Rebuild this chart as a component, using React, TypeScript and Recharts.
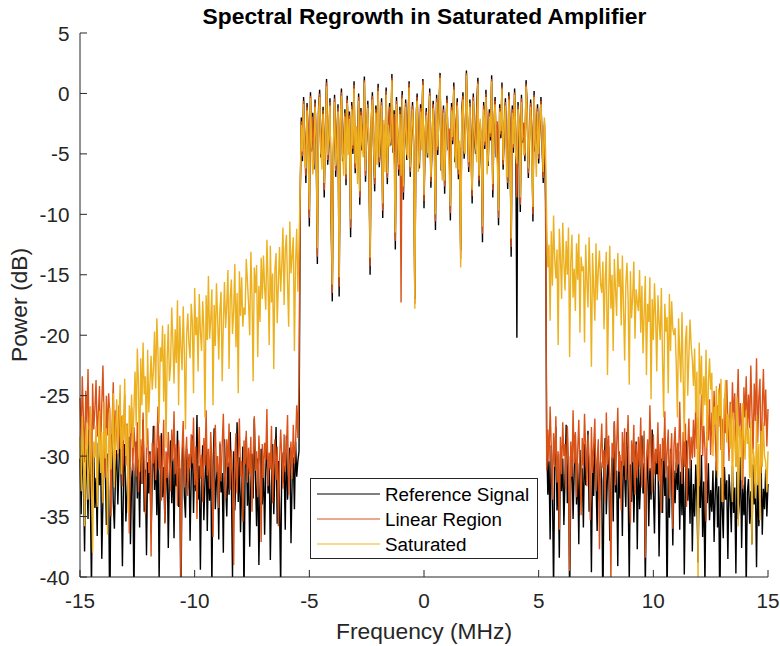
import React from 'react';
import { LineChart, Line, XAxis, YAxis } from 'recharts';

// Spectrum sampled every 0.05 MHz, stored as three segments per series:
// lower out-of-band (-15 .. -5.45), in-band (-5.4 .. 5.3), upper out-of-band (5.35 .. 15)
const FREQ_STEP = 0.05;
const SEG_START = [-15, -5.4, 5.35];
const X_TICKS = [-15, -10, -5, 0, 5, 10, 15];
const Y_TICKS = [-40, -35, -30, -25, -20, -15, -10, -5, 0, 5];
const SERIES_NAMES = ['Reference Signal', 'Linear Region', 'Saturated'];
const COLORS = ['#000000', '#D95319', '#EDB120'];
const TITLE = 'Spectral Regrowth in Saturated Amplifier';
const X_LABEL = 'Frequency (MHz)';
const Y_LABEL = 'Power (dB)';

// ---------- Reference Signal ----------
const refLow: number[] = [
  -30.2, -34.8, -28.6, -32.1, -37.9, -29.4, -31.5, -35.2, -27.8, -33.0, -41, -30.7, -29.1, -34.3, -31.8, -36.6,
  -28.9, -32.4, -30.1, -38.5, -33.6, -27.3, -31.0, -35.7, -29.8, -32.9, -44, -30.4, -28.2, -33.8, -36.0, -31.2,
  -29.5, -34.0, -30.8, -27.6, -32.6, -39.1, -31.4, -29.0, -35.4, -33.2, -30.0, -28.4, -37.3, -32.0, -30.6, -42,
  -31.7, -28.8, -33.5, -30.3, -35.9, -29.2, -32.3, -27.0, -34.6, -31.1, -38.2, -30.5, -33.1, -29.6, -36.4, -31.9,
  -27.5, -32.8, -30.0, -34.9, -29.3, -40.3, -31.6, -28.1, -33.4, -30.9, -35.5, -32.2, -29.7, -37.6, -31.3, -28.7,
  -33.9, -30.2, -36.8, -29.9, -32.5, -27.9, -34.2, -31.0, -43, -30.6, -28.5, -33.3, -35.1, -29.4, -32.7, -30.1,
  -37.0, -31.5, -28.3, -34.7, -30.4, -32.9, -26.6, -33.6, -30.8, -39.4, -31.8, -29.1, -35.3, -32.1, -28.9, -36.2,
  -30.3, -33.7, -29.5, -41, -31.2, -27.7, -34.4, -32.0, -30.7, -36.9, -29.0, -33.0, -31.4, -38.0, -28.6, -32.4,
  -35.0, -30.5, -33.2, -28.0, -31.9, -40.0, -29.6, -34.5, -31.7, -27.2, -33.8, -30.1, -36.3, -32.6, -29.2, -42,
  -31.0, -28.4, -34.1, -30.9, -37.5, -32.3, -29.8, -33.5, -26.9, -31.6, -35.8, -30.2, -39.0, -32.8, -29.4, -34.0,
  -30.6, -36.5, -31.3, -28.7, -33.1, -30.0, -38.6, -32.5, -29.0, -34.8, -31.1, -27.6, -35.6, -30.4, -33.9, -41,
  -29.7, -32.2, -30.8, -36.1, -28.3, -33.6, -31.5, -29.3, -37.2, -32.0, -30.1, -34.4, -28.8, -31.7, -30.4, -29.6,
];
const refBand: number[] = [
  -9.2, -2.0, -5.6, -0.3, -3.9, -7.4, -0.8, -3.5, -11.0, 0.1, -4.8, -1.6, -6.3, -0.5, -4.4, -14.1,
  -1.4, 0.3, -5.3, -3.7, -1.1, -8.6, -3.1, 1.2, -5.9, -4.2, -0.4, -10.1, -17.2, -5.1, -0.1, -6.9,
  -3.8, -0.9, -16.8, -3.0, 0.4, -5.6, -4.5, -1.3, -7.6, -0.2, -3.7, -1.5, -11.9, -0.7, -5.0, 1.0,
  -6.6, -3.3, -4.2, 0.0, -9.2, -1.2, -4.7, -2.9, 1.4, -7.3, -3.6, -0.6, -5.4, -15.0, -2.6, 0.1,
  -4.5, -8.1, -1.0, -3.5, 0.8, -6.1, -4.0, -0.4, -10.3, -2.8, -5.2, 0.5, -7.5, -3.2, -0.8, -4.3,
  1.6, -4.9, -1.4, -12.9, -0.3, -3.9, -6.8, -1.1, -3.4, 0.2, -8.8, -4.2, -0.5, -5.5, -3.0, 1.0,
  -6.9, -3.5, -0.7, -4.6, -17.0, -2.7, 0.0, -4.1, -6.2, -0.9, -3.3, 1.2, -9.5, -3.7, -1.2, -5.3,
  -2.9, 0.4, -7.8, -4.4, -0.6, -3.1, -11.3, -0.1, -5.1, -1.4, 1.7, -6.4, -3.8, -1.0, -8.3, -3.4,
  -0.2, -4.7, -3.2, -10.5, -0.8, -4.2, 0.9, -5.7, -2.8, -0.4, -7.1, -4.5, -13.0, -1.3, 0.1, -5.4,
  -3.6, 1.9, -3.0, -6.5, -0.5, -4.0, -9.1, 0.0, -3.5, -5.0, -1.1, 1.3, -7.7, -2.7, -4.3, -12.3,
  -0.7, -4.6, 0.3, -3.3, -6.0, -1.3, -3.9, 1.5, -8.6, -3.0, -0.3, -5.3, -2.6, -10.9, -0.9, -3.7,
  0.9, -6.3, -3.2, -0.4, -4.5, -7.9, 0.1, -2.8, -13.5, -1.0, -4.9, 0.4, -3.6, -20.2, -0.7, -3.3,
  -9.8, -0.1, -4.1, -2.7, -5.6, 1.1, -1.2, -7.0, -3.8, -0.5, -3.1, -10.6, 0.2, -4.8, -3.5, -0.9,
  -5.8, -2.9, -0.3, -4.4, -7.4, -2.6, -9.0,
];
const refHigh: number[] = [
  -28.7, -33.2, -30.4, -36.9, -29.1, -32.6, -41, -30.8, -27.6, -34.5, -31.3, -38.4, -29.8, -32.9, -30.2, -35.7,
  -31.8, -27.4, -33.9, -30.0, -42, -32.3, -29.4, -35.2, -31.1, -28.2, -34.0, -30.6, -37.3, -29.5, -32.7, -31.0,
  -35.9, -29.0, -32.4, -30.7, -27.9, -34.6, -31.5, -39.6, -30.3, -33.3, -28.6, -31.9, -36.2, -29.9, -33.7, -30.5,
  -32.1, -43, -30.9, -28.5, -34.8, -31.6, -29.2, -37.0, -32.8, -30.1, -35.4, -27.2, -33.0, -31.2, -39.1, -29.6,
  -33.5, -30.4, -36.6, -29.3, -31.7, -34.2, -28.0, -32.5, -40.4, -30.7, -33.8, -29.7, -35.5, -31.4, -28.8, -37.7,
  -30.0, -34.4, -31.9, -28.3, -33.1, -30.6, -41, -32.2, -29.5, -35.8, -31.0, -33.6, -27.8, -32.9, -36.4, -30.3,
  -31.5, -29.1, -38.3, -32.6, -30.2, -34.7, -28.9, -33.3, -31.7, -42, -30.8, -35.1, -29.4, -32.0, -37.4, -31.2,
  -33.9, -30.5, -32.8, -29.6, -36.1, -31.3, -34.9, -30.0, -39.8, -32.4, -28.7, -33.7, -31.0, -35.6, -30.3, -37.9,
  -32.3, -35.0, -30.7, -33.5, -38.8, -31.6, -34.3, -29.9, -36.7, -32.1, -40.7, -31.4, -33.9, -30.6, -35.3, -32.8,
  -34.6, -31.2, -37.1, -33.0, -30.4, -35.9, -32.5, -43, -31.8, -34.1, -36.8, -30.9, -33.6, -32.0, -38.5, -31.5,
  -33.2, -36.3, -30.8, -34.7, -32.6, -39.7, -31.3, -35.2, -33.8, -30.1, -37.6, -32.4, -34.9, -31.7, -41, -33.0,
  -31.9, -35.6, -32.9, -37.3, -30.7, -34.0, -32.2, -39.2, -31.4, -35.8, -33.4, -30.5, -36.5, -32.7, -34.4, -31.1,
  -35.0, -32.3,
];

// ---------- Linear Region ----------
const linLow: number[] = [
  -25.2, -28.7, -23.4, -26.9, -30.5, -24.6, -27.3, -22.8, -29.1, -25.9, -33.6, -24.0, -27.8, -26.1, -23.7, -28.4,
  -26.5, -24.2, -29.6, -25.7, -22.5, -27.1, -31.8, -25.0, -28.3, -24.8, -26.6, -35.0, -27.5, -23.9, -29.0, -26.2,
  -27.9, -30.2, -25.8, -29.4, -26.7, -32.5, -28.1, -24.9, -30.8, -27.3, -29.7, -36.4, -28.5, -26.0, -31.2, -27.6,
  -29.3, -31.7, -27.2, -33.0, -30.0, -28.6, -32.3, -26.4, -30.9, -34.8, -29.1, -27.7, -31.4, -29.8, -38.3, -28.9,
  -30.6, -27.5, -32.0, -29.4, -25.9, -31.1, -28.3, -33.7, -30.2, -27.0, -35.6, -29.6, -31.8, -28.0, -30.7, -32.9,
  -27.8, -30.4, -26.3, -31.5, -29.0, -34.1, -28.7, -30.9, -40.2, -29.5, -27.1, -32.6, -30.1, -28.4, -33.3, -29.8,
  -31.0, -28.2, -30.6, -26.8, -32.4, -29.2, -35.2, -30.3, -27.6, -31.9, -29.9, -33.8, -28.5, -30.8, -26.2, -31.6,
  -29.4, -32.7, -28.0, -30.5, -36.7, -29.7, -27.4, -31.3, -30.0, -34.3, -28.8, -32.1, -29.1, -26.5, -31.0, -33.5,
  -28.6, -30.9, -27.3, -32.8, -29.5, -31.4, -39.0, -30.2, -28.1, -33.1, -29.8, -26.9, -31.7, -30.4, -35.4, -28.7,
  -30.7, -27.9, -32.2, -29.3, -31.5, -28.4, -34.6, -30.1, -26.7, -31.2, -29.6, -33.4, -28.3, -30.6, -37.1, -29.0,
  -31.8, -28.9, -30.3, -26.1, -32.5, -29.7, -31.1, -27.5, -33.9, -30.0, -28.6, -32.0, -29.2, -35.8, -30.5, -27.8,
  -30.1, -32.7, -28.2, -31.3, -29.5, -26.6, -33.2, -30.4, -28.8, -31.9, -27.4, -30.6, -29.0, -25.8, -28.5, -24.0,
];
const linBand: number[] = [
  -8.4, -2.3, -5.2, -0.6, -3.6, -6.8, -1.1, -3.2, -10.3, -0.2, -4.4, -1.9, -5.9, -0.8, -4.0, -13.5,
  -1.7, 0.0, -5.0, -3.3, -1.4, -8.0, -2.8, 0.9, -5.5, -3.9, -0.7, -9.4, -16.5, -4.7, -0.4, -6.4,
  -3.5, -1.2, -16.0, -2.7, 0.1, -5.2, -4.1, -1.6, -7.1, -0.5, -3.4, -1.8, -11.1, -1.0, -4.6, 0.7,
  -6.2, -3.0, -3.8, -0.3, -8.6, -1.5, -4.3, -2.6, 1.1, -6.8, -3.3, -0.9, -5.0, -14.3, -2.3, -0.2,
  -4.2, -7.5, -1.3, -3.2, 0.5, -5.7, -3.7, -0.7, -9.7, -2.5, -4.8, 0.2, -7.0, -2.9, -1.1, -4.0,
  1.3, -4.5, -1.7, -12.2, -0.6, -3.6, -6.3, -1.4, -17.3, -0.1, -8.2, -3.9, -0.8, -5.1, -2.7, 0.8,
  -6.5, -3.2, -1.0, -4.3, -17.4, -2.4, -0.3, -3.8, -5.8, -1.2, -3.0, 1.0, -8.9, -3.4, -1.5, -4.9,
  -2.6, 0.1, -7.3, -4.1, -0.9, -2.8, -10.6, -0.4, -4.7, -1.7, 1.5, -6.0, -3.5, -1.3, -7.7, -3.1,
  -0.5, -4.4, -2.9, -9.9, -1.1, -3.9, 0.6, -5.3, -2.5, -0.7, -6.7, -4.2, -13.7, -1.6, -0.2, -5.0,
  -3.3, 1.7, -2.7, -6.1, -0.8, -3.7, -8.5, -0.3, -3.2, -4.6, -1.4, 1.0, -7.2, -2.4, -4.0, -11.6,
  -1.0, -4.3, 0.0, -3.0, -5.6, -1.6, -3.6, 1.2, -8.0, -2.7, -0.6, -4.9, -2.3, -10.3, -1.2, -3.4,
  0.6, -5.9, -2.9, -0.7, -4.2, -7.4, -0.2, -2.5, -12.7, -1.3, -4.5, 0.1, -3.3, -8.6, -1.0, -3.0,
  -9.2, -0.4, -3.8, -2.4, -5.2, 0.8, -1.5, -6.6, -3.5, -0.8, -2.8, -10.0, -0.1, -4.4, -3.2, -1.2,
  -5.4, -2.6, -0.6, -4.1, -7.0, -2.3, -6.8,
];
const linHigh: number[] = [
  -31.2, -27.8, -30.5, -25.9, -29.3, -33.6, -28.1, -30.9, -26.7, -32.2, -29.6, -36.1, -28.4, -31.5, -27.2, -30.0,
  -29.0, -32.8, -27.5, -30.3, -39.5, -28.8, -31.7, -26.2, -30.6, -28.0, -33.4, -29.7, -27.0, -31.1, -34.9, -28.5,
  -30.8, -26.5, -29.4, -32.5, -28.2, -30.1, -35.3, -27.6, -31.4, -29.1, -26.9, -32.9, -30.4, -28.6, -37.7, -29.8,
  -27.3, -31.0, -29.5, -33.7, -26.4, -30.7, -28.3, -31.9, -40.6, -28.9, -30.2, -27.1, -32.4, -29.2, -26.0, -31.3,
  -29.9, -34.5, -28.0, -30.8, -27.7, -32.0, -29.3, -26.6, -31.6, -35.6, -28.7, -30.5, -27.4, -33.2, -29.0, -31.8,
  -28.4, -30.9, -26.8, -32.6, -29.7, -27.9, -38.4, -30.3, -28.6, -31.2, -25.8, -30.0, -33.0, -28.2, -31.5, -29.4,
  -30.6, -27.2, -32.1, -29.0, -34.7, -28.5, -30.4, -26.3, -31.8, -29.6, -27.8, -33.5, -30.2, -28.1, -36.0, -29.1,
  -27.6, -31.4, -28.9, -30.7, -25.5, -29.8, -32.3, -28.0, -30.9, -27.3, -34.2, -29.5, -26.9, -31.0, -28.4, -30.2,
  -27.0, -30.1, -25.7, -29.4, -26.8, -32.5, -28.2, -24.9, -30.0, -27.5, -29.3, -35.4, -26.1, -28.7, -25.3, -29.9,
  -26.4, -29.0, -24.6, -28.3, -31.2, -25.8, -27.6, -24.0, -29.5, -26.9, -33.8, -25.2, -28.1, -23.7, -27.3, -30.4,
  -25.5, -28.6, -23.9, -27.0, -24.8, -30.9, -26.2, -22.8, -28.4, -25.6, -27.9, -32.7, -24.3, -26.8, -23.4, -28.0,
  -24.9, -27.7, -22.5, -26.3, -29.8, -24.0, -27.1, -21.9, -28.9, -25.2, -23.6, -31.4, -26.0, -22.8, -27.5, -24.5,
  -29.2, -26.1,
];

// ---------- Saturated ----------
const satLow: number[] = [
  -28.4, -32.9, -26.7, -30.3, -35.8, -29.1, -27.2, -33.6, -30.8, -25.9, -31.7, -38.0, -28.8, -30.1, -27.5, -34.2,
  -29.6, -26.3, -31.4, -28.0, -33.9, -25.5, -30.2, -27.7, -36.5, -28.9, -26.0, -31.1, -29.3, -24.8, -32.6, -28.2,
  -25.3, -29.8, -27.0, -24.1, -31.5, -26.6, -28.7, -23.6, -30.0, -27.4, -34.7, -25.8, -28.1, -24.9, -29.3, -26.2,
  -23.0, -27.5, -21.1, -24.2, -31.3, -21.9, -25.8, -20.6, -24.9, -23.4, -29.3, -21.2, -26.4, -24.0, -21.7, -24.5,
  -22.9, -19.7, -24.4, -18.6, -21.4, -27.3, -21.0, -22.2, -19.2, -25.5, -19.9, -29.3, -22.0, -19.1, -23.8, -22.5,
  -17.7, -20.5, -24.0, -19.5, -22.3, -17.1, -25.8, -18.4, -21.0, -22.9, -17.6, -21.4, -27.8, -19.9, -18.2, -20.7,
  -21.9, -17.4, -18.9, -24.8, -16.1, -20.0, -18.5, -23.0, -16.6, -19.7, -21.3, -17.2, -19.5, -26.8, -16.7, -20.4,
  -15.1, -20.3, -18.7, -16.2, -25.8, -17.5, -20.9, -15.7, -18.5, -22.0, -17.9, -16.4, -23.8, -19.0, -15.6, -19.4,
  -17.5, -14.6, -22.8, -16.9, -15.4, -19.9, -18.0, -14.1, -21.0, -16.5, -24.8, -14.7, -18.4, -15.2, -19.3, -17.7,
  -18.3, -13.7, -15.5, -17.4, -20.0, -13.1, -16.7, -23.8, -14.4, -16.5, -14.2, -21.8, -15.9, -18.9, -13.6, -17.0,
  -13.4, -16.0, -17.9, -12.1, -15.5, -20.8, -12.6, -17.3, -14.9, -22.8, -14.5, -13.2, -19.0, -15.7, -12.7, -16.4,
  -14.2, -11.1, -17.5, -13.0, -11.7, -15.8, -19.3, -10.6, -14.9, -13.4, -11.9, -21.3, -14.0, -11.2, -16.4, -12.5,
];
const satBand: number[] = [
  -7.9, -2.6, -4.8, -0.9, -5.8, -6.2, -1.4, -4.9, -9.6, -0.4, -4.1, -6.7, -5.5, -1.1, -3.7, -12.8,
  -2.0, -0.3, -4.6, -6.3, -1.7, -7.4, -4.5, 0.6, -5.1, -3.6, -1.0, -8.8, -15.8, -4.4, -0.7, -6.0,
  -5.2, -1.5, -15.2, -2.4, -0.2, -4.9, -6.8, -1.9, -6.7, -0.8, -5.1, -2.1, -10.4, -1.3, -4.3, 0.4,
  -5.8, -2.7, -7.5, -0.6, -8.1, -1.8, -4.0, -5.3, 0.9, -6.4, -3.0, -1.2, -4.7, -13.6, -2.0, -0.5,
  -3.9, -7.0, -1.6, -5.9, 0.2, -5.3, -3.4, -1.0, -9.1, -2.2, -6.5, -0.1, -6.6, -2.6, -4.4, -3.7,
  1.1, -4.2, -6.0, -11.5, -0.9, -3.3, -5.9, -1.7, -6.8, -0.4, -7.7, -3.6, -1.1, -4.8, -5.4, 0.5,
  -6.1, -2.9, -1.3, -4.0, -17.8, -2.1, -0.6, -6.5, -5.4, -1.5, -4.7, 0.7, -8.4, -3.1, -1.8, -4.6,
  -5.3, -0.2, -6.9, -3.8, -1.2, -5.5, -10.0, -0.7, -4.4, -2.0, 1.3, -5.6, -7.2, -1.6, -7.2, -2.8,
  -0.8, -4.1, -6.6, -9.3, -1.4, -3.6, 0.3, -5.0, -6.2, -1.0, -6.3, -3.9, -14.4, -1.9, -0.5, -4.7,
  -5.0, 1.5, -2.4, -5.7, -1.1, -6.4, -8.0, -0.6, -2.9, -4.3, -5.7, 0.8, -6.8, -2.1, -3.7, -11.0,
  -1.3, -4.0, -0.3, -6.7, -5.2, -1.9, -3.3, 1.0, -7.5, -2.4, -0.9, -4.6, -6.0, -9.7, -1.5, -3.1,
  0.4, -5.5, -2.6, -1.0, -6.9, -6.9, -0.5, -4.2, -12.0, -1.6, -4.2, -0.1, -5.0, -5.8, -1.3, -2.7,
  -8.6, -0.7, -3.5, -5.1, -4.9, 0.6, -1.8, -6.2, -3.2, -1.1, -5.5, -9.4, -0.3, -4.1, -6.9, -1.5,
  -5.0, -2.3, -0.9, -3.8, -6.5, -2.0, -4.6,
];
const satHigh: number[] = [
  -10.6, -14.4, -12.5, -18.8, -11.4, -15.9, -10.1, -13.7, -15.3, -12.9, -20.8, -11.2, -13.5, -17.0, -10.7, -14.0,
  -16.3, -12.2, -15.0, -11.1, -21.8, -13.9, -11.7, -16.9, -14.5, -18.0, -12.4, -15.4, -11.6, -19.8, -13.5, -14.7,
  -14.3, -20.6, -12.5, -15.5, -17.7, -11.9, -15.3, -22.6, -13.2, -16.2, -18.8, -12.4, -17.1, -14.7, -13.0, -15.8,
  -16.5, -13.9, -19.5, -15.4, -13.1, -23.3, -16.9, -12.6, -17.8, -15.0, -21.3, -13.7, -16.2, -18.4, -13.2, -16.0,
  -14.5, -19.2, -13.4, -17.7, -22.1, -15.8, -14.0, -17.0, -24.1, -14.7, -18.6, -16.8, -13.9, -20.3, -16.2, -17.3,
  -18.0, -14.6, -19.8, -15.9, -21.5, -18.2, -15.1, -23.3, -17.4, -18.9, -15.2, -25.3, -17.0, -20.4, -15.7, -18.5,
  -23.0, -16.7, -18.9, -20.4, -16.1, -21.9, -26.8, -17.4, -19.7, -18.5, -24.8, -16.6, -21.3, -17.2, -19.5, -20.0,
  -19.4, -22.4, -26.8, -18.6, -21.5, -23.9, -18.1, -23.3, -28.8, -20.5, -19.2, -25.0, -21.7, -18.7, -20.9, -22.0,
  -24.2, -21.1, -26.4, -23.0, -40.5, -20.6, -24.9, -21.7, -27.5, -23.4, -25.8, -21.2, -29.3, -24.0, -21.9, -24.5,
  -23.1, -30.0, -25.9, -27.4, -24.2, -31.8, -24.4, -26.7, -23.6, -33.8, -28.3, -25.5, -23.7, -28.9, -26.5, -27.0,
  -29.4, -25.7, -33.8, -26.4, -28.7, -30.9, -25.1, -35.8, -27.5, -27.9, -32.0, -25.6, -28.5, -30.3, -26.2, -29.0,
  -27.7, -31.8, -27.1, -37.3, -29.4, -30.2, -33.5, -26.6, -32.4, -29.0, -35.3, -27.9, -30.9, -27.2, -30.0, -30.5,
  -33.0, -29.6,
];

const seg = (start: number, vals: number[]) =>
  vals.map((v, i) => ({ f: Math.round((start + i * FREQ_STEP) * 100) / 100, v }));
const series = (low: number[], band: number[], high: number[]) => [
  ...seg(SEG_START[0], low),
  ...seg(SEG_START[1], band),
  ...seg(SEG_START[2], high),
];
const refData = series(refLow, refBand, refHigh);
const linData = series(linLow, linBand, linHigh);
const satData = series(satLow, satBand, satHigh);
const SERIES_DATA = [refData, linData, satData];

const FONT = '"Liberation Sans", Arial, Helvetica, sans-serif';
const AXIS = '#262626';
const TICK_LEN = 7;
const TICK_FONT = 20.7;
const LABEL_FONT = 22.8;

const BottomTick = (p: any) => (
  <g>
    <line x1={p.x} x2={p.x} y1={p.y} y2={p.y - TICK_LEN} stroke={AXIS} strokeWidth={1} />
    <text x={p.x} y={p.y + 30.5} textAnchor="middle" fontFamily={FONT} fontSize={TICK_FONT} fill={AXIS}>
      {p.payload.value}
    </text>
  </g>
);
const TopTick = (p: any) => (
  <line x1={p.x} x2={p.x} y1={p.y} y2={p.y + TICK_LEN} stroke={AXIS} strokeWidth={1} />
);
const LeftTick = (p: any) => (
  <g>
    <line x1={p.x} x2={p.x + TICK_LEN} y1={p.y} y2={p.y} stroke={AXIS} strokeWidth={1} />
    <text x={p.x - 10.5} y={p.y + 7.5} textAnchor="end" fontFamily={FONT} fontSize={TICK_FONT} fill={AXIS}>
      {p.payload.value}
    </text>
  </g>
);
const RightTick = (p: any) => (
  <line x1={p.x} x2={p.x - TICK_LEN} y1={p.y} y2={p.y} stroke={AXIS} strokeWidth={1} />
);

const LEG_X = 310.5;
const LEG_Y = 478.5;
const LEG_ROWS = [494, 519, 544];

export default function App() {
  return (
    <div style={{ position: 'relative', width: 780, height: 646, background: '#fff' }}>
      <style>{'body{margin:0;background:#fff}'}</style>
      <LineChart width={780} height={646} margin={{ top: 33, right: 12, bottom: 0, left: 0 }}>
        <XAxis
          dataKey="f"
          type="number"
          domain={[-15, 15]}
          ticks={X_TICKS}
          interval={0}
          height={69}
          tickSize={0}
          tickMargin={0}
          tickLine={false}
          axisLine={{ stroke: AXIS, strokeWidth: 1 }}
          tick={BottomTick}
          allowDuplicatedCategory={false}
        />
        <XAxis
          xAxisId="top"
          orientation="top"
          dataKey="f"
          type="number"
          domain={[-15, 15]}
          ticks={X_TICKS}
          interval={0}
          height={0}
          tickSize={0}
          tickMargin={0}
          tickLine={false}
          axisLine={{ stroke: AXIS, strokeWidth: 1 }}
          tick={TopTick}
        />
        <YAxis
          type="number"
          domain={[-40, 5]}
          ticks={Y_TICKS}
          interval={0}
          width={80}
          allowDataOverflow
          tickSize={0}
          tickMargin={0}
          tickLine={false}
          axisLine={{ stroke: AXIS, strokeWidth: 1 }}
          tick={LeftTick}
        />
        <YAxis
          yAxisId="right"
          orientation="right"
          type="number"
          domain={[-40, 5]}
          ticks={Y_TICKS}
          interval={0}
          width={0}
          allowDataOverflow
          tickSize={0}
          tickMargin={0}
          tickLine={false}
          axisLine={{ stroke: AXIS, strokeWidth: 1 }}
          tick={RightTick}
        />
        {SERIES_DATA.map((d, i) => (
          <Line
            key={SERIES_NAMES[i]}
            name={SERIES_NAMES[i]}
            data={d}
            type="linear"
            dataKey="v"
            stroke={COLORS[i]}
            strokeWidth={1.4}
            strokeLinejoin="miter"
            dot={false}
            activeDot={false}
            isAnimationActive={false}
          />
        ))}
      </LineChart>
      <svg width={780} height={646} style={{ position: 'absolute', left: 0, top: 0, pointerEvents: 'none' }}>
        <text x={424.5} y={24} textAnchor="middle" fontFamily={FONT} fontSize={LABEL_FONT} fontWeight="bold" fill="#000">
          {TITLE}
        </text>
        <text x={424} y={639} textAnchor="middle" fontFamily={FONT} fontSize={LABEL_FONT} fill={AXIS}>
          {X_LABEL}
        </text>
        <text transform="translate(27,305) rotate(-90)" textAnchor="middle" fontFamily={FONT} fontSize={LABEL_FONT} fill={AXIS}>
          {Y_LABEL}
        </text>
        <rect x={LEG_X} y={LEG_Y} width={227} height={80} fill="#fff" stroke={AXIS} strokeWidth={1} />
        {SERIES_NAMES.map((name, i) => (
          <g key={name}>
            <line x1={317} x2={380} y1={LEG_ROWS[i]} y2={LEG_ROWS[i]} stroke={COLORS[i]} strokeWidth={1} />
            <text x={385} y={LEG_ROWS[i] + 6.7} fontFamily={FONT} fontSize={18.8} fill="#000">
              {name}
            </text>
          </g>
        ))}
      </svg>
    </div>
  );
}
